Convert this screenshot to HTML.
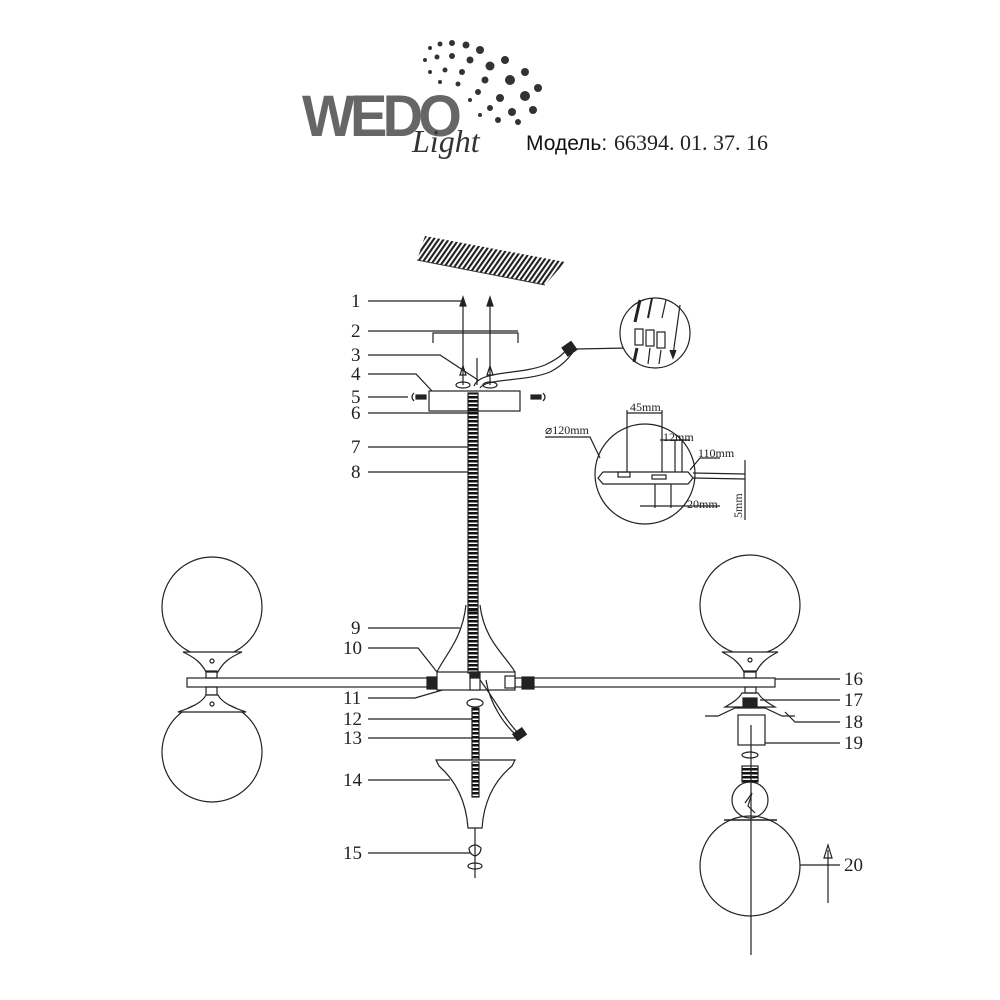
<!DOCTYPE html>
<html><head><meta charset="utf-8"><style>
body{margin:0;background:#fff}
svg{display:block}
text{font-family:"Liberation Serif",serif;fill:#222}
</style></head><body>
<svg width="1000" height="1000" viewBox="0 0 1000 1000" xmlns="http://www.w3.org/2000/svg">
<defs>
<pattern id="th" width="10" height="4" patternUnits="userSpaceOnUse"><rect width="10" height="4" fill="#fff"/><rect y="0" width="10" height="2.5" fill="#111"/></pattern>
<pattern id="hatch" width="5" height="30" patternUnits="userSpaceOnUse" patternTransform="skewX(-35)"><rect width="2.6" height="30" fill="#222"/></pattern>
</defs>
<!-- Logo -->
<g>
<g fill="#333">
<circle cx="430" cy="48" r="2"/><circle cx="440" cy="44" r="2.5"/><circle cx="452" cy="43" r="3"/><circle cx="466" cy="45" r="3.5"/><circle cx="480" cy="50" r="4"/>
<circle cx="425" cy="60" r="2"/><circle cx="437" cy="57" r="2.5"/><circle cx="452" cy="56" r="3"/><circle cx="470" cy="60" r="3.5"/><circle cx="490" cy="66" r="4.5"/><circle cx="505" cy="60" r="4"/>
<circle cx="430" cy="72" r="2"/><circle cx="445" cy="70" r="2.5"/><circle cx="462" cy="72" r="3"/><circle cx="485" cy="80" r="3.5"/><circle cx="510" cy="80" r="5"/><circle cx="525" cy="72" r="4"/>
<circle cx="440" cy="82" r="2"/><circle cx="458" cy="84" r="2.5"/><circle cx="478" cy="92" r="3"/><circle cx="500" cy="98" r="4"/><circle cx="525" cy="96" r="5"/><circle cx="538" cy="88" r="4"/>
<circle cx="470" cy="100" r="2"/><circle cx="490" cy="108" r="3"/><circle cx="512" cy="112" r="4"/><circle cx="533" cy="110" r="4"/>
<circle cx="480" cy="115" r="2"/><circle cx="498" cy="120" r="3"/><circle cx="518" cy="122" r="3"/>
</g>
<text x="302" y="136" font-family="Liberation Sans" font-weight="bold" font-size="58" style="fill:#666;font-family:'Liberation Sans',sans-serif;letter-spacing:-5px" textLength="155" lengthAdjust="spacingAndGlyphs">WEDO</text>
<text x="412" y="152" font-style="italic" font-size="32" style="fill:#333">Light</text>
<text x="526" y="150" font-size="21" style="fill:#111;font-family:'Liberation Sans',sans-serif">Модель:</text>
<text x="614" y="150" font-size="22" style="fill:#222">66394. 01. 37. 16</text>
</g>
<!-- ceiling hatch -->
<polygon points="425,236 565,262 545,285 417,260" fill="url(#hatch)"/>
<line x1="417" y1="260" x2="545" y2="285" stroke="#333" stroke-width="1"/>

<g stroke="#222" stroke-width="1.2" fill="none">
<line x1="368" y1="301" x2="463" y2="301"/>
<line x1="368" y1="331" x2="518" y2="331"/>
<polyline points="368,355 440,355 478,380"/>
<polyline points="368,374 416,374 432,391"/>
<line x1="368" y1="397" x2="408" y2="397"/>
<line x1="368" y1="413" x2="468" y2="413"/>
<line x1="368" y1="447" x2="468" y2="447"/>
<line x1="368" y1="472" x2="468" y2="472"/>
<line x1="368" y1="628" x2="460" y2="628"/>
<polyline points="368,648 418,648 437,672"/>
<polyline points="368,698 415,698 470,682"/>
<line x1="368" y1="719" x2="472" y2="719"/>
<line x1="368" y1="738" x2="520" y2="738"/>
<line x1="368" y1="780" x2="450" y2="780"/>
<line x1="368" y1="853" x2="470" y2="853"/>
<line x1="775" y1="679" x2="840" y2="679"/>
<line x1="760" y1="700" x2="840" y2="700"/>
<polyline points="785,712 795,722 840,722"/>
<line x1="765" y1="743" x2="840" y2="743"/>
<line x1="800" y1="865" x2="840" y2="865"/>
<polyline points="433,343 433,333 518,333 518,343"/>
<line x1="463" y1="300" x2="463" y2="385"/>
<line x1="490" y1="300" x2="490" y2="385"/>
<line x1="477" y1="358" x2="477" y2="385"/>
<path d="M460,306 L463,297 L466,306 Z" fill="#222"/>
<path d="M487,306 L490,297 L493,306 Z" fill="#222"/>
<path d="M460,375 L463,366 L466,375 Z"/><path d="M487,375 L490,366 L493,375 Z"/>
<ellipse cx="463" cy="385" rx="7" ry="3"/><ellipse cx="490" cy="385" rx="7" ry="3"/>
<rect x="429" y="391" width="91" height="20"/>
<path d="M414,393 q-4,4 0,8"/><rect x="416" y="395" width="10" height="4" fill="#222"/>
<path d="M543,393 q4,4 0,8"/><rect x="531" y="395" width="10" height="4" fill="#222"/>
<path d="M474,386 C480,370 520,375 545,365 C560,358 565,352 568,348"/>
<path d="M480,388 C486,378 525,382 550,372 C565,364 570,356 573,352"/>
<rect x="564" y="344" width="11" height="10" fill="#222" transform="rotate(-35 569 349)"/>
<line x1="576" y1="349" x2="628" y2="348"/>
<circle cx="655" cy="333" r="35" fill="#fff"/>
<line x1="640" y1="300" x2="635" y2="322" stroke-width="3"/>
<line x1="652" y1="298" x2="648" y2="318" stroke-width="2"/>
<line x1="666" y1="300" x2="662" y2="318"/>
<line x1="680" y1="305" x2="673" y2="355"/>
<path d="M670,350 L673,358 L676,350" fill="#222"/>
<rect x="635" y="329" width="8" height="16"/><rect x="646" y="330" width="8" height="16"/><rect x="657" y="332" width="8" height="16"/>
<line x1="637" y1="348" x2="634" y2="362" stroke-width="3"/><line x1="650" y1="348" x2="648" y2="364"/><line x1="661" y1="350" x2="659" y2="364"/>
<rect x="468" y="411" width="10" height="200" fill="url(#th)"/>
<rect x="468" y="393" width="10" height="18" fill="url(#th)"/>
<circle cx="645" cy="474" r="50"/>
<path d="M598,478 L603,472 L688,472 L693,478 L688,484 L603,484 Z"/>
<rect x="618" y="472" width="12" height="5"/><rect x="652" y="475" width="14" height="4"/>
<line x1="627" y1="410" x2="627" y2="472"/><line x1="662" y1="410" x2="662" y2="472"/>
<line x1="627" y1="413" x2="662" y2="413"/>
<line x1="660" y1="440" x2="690" y2="440"/><line x1="675" y1="440" x2="675" y2="472"/><line x1="682" y1="440" x2="682" y2="472"/>
<line x1="693" y1="473" x2="745" y2="474"/><line x1="693" y1="478" x2="745" y2="479"/>
<line x1="745" y1="460" x2="745" y2="520"/>
<line x1="655" y1="484" x2="655" y2="508"/><line x1="671" y1="484" x2="671" y2="508"/>
<line x1="640" y1="506" x2="720" y2="506"/>
<polyline points="545,437 590,437 600,458"/>
<polyline points="720,458 700,458 690,470"/>
<rect x="187" y="678" width="588" height="9" fill="#fff"/>
<rect x="427" y="677" width="9" height="12" fill="#222"/>
<rect x="522" y="677" width="12" height="12" fill="#222"/>
<path d="M466,605 C462,640 445,655 437,672 M480,605 C484,640 505,655 515,672"/>
<rect x="437" y="672" width="78" height="18" fill="#fff"/>
<rect x="468" y="611" width="10" height="62" fill="url(#th)"/>
<rect x="470" y="672" width="10" height="18" fill="#fff"/>
<rect x="470" y="672" width="9" height="6" fill="#222"/>
<rect x="505" y="676" width="10" height="12" fill="#fff"/>
<ellipse cx="475" cy="703" rx="8" ry="4"/>
<rect x="472" y="708" width="7" height="88" fill="url(#th)"/>
<path d="M480,680 C495,700 505,720 520,735 M486,680 C490,705 505,725 516,735"/>
<rect x="514" y="730" width="11" height="8" fill="#222" transform="rotate(-35 520 734)"/>
<path d="M436,760 L515,760 L512,766 C495,780 484,800 482,828 L468,828 C466,800 455,780 439,766 Z" fill="#fff"/>
<rect x="472" y="762" width="7" height="35" fill="url(#th)"/>
<line x1="475" y1="828" x2="475" y2="878"/>
<path d="M469,848 q6,-6 12,0 q0,6 -6,8 q-6,-2 -6,-8"/>
<ellipse cx="475" cy="866" rx="7" ry="3"/>
<circle cx="212" cy="607" r="50"/>
<path d="M183,652 L242,652 C228,658 222,664 218,672 L206,672 C202,664 196,658 183,652 Z" fill="#fff"/>
<rect x="206" y="671" width="11" height="7"/>
<circle cx="212" cy="661" r="2"/>
<circle cx="212" cy="752" r="50"/>
<rect x="206" y="687" width="11" height="8"/>
<path d="M206,695 C202,703 190,708 178,712 L246,712 C234,708 222,703 218,695 Z" fill="#fff"/>
<circle cx="212" cy="704" r="2"/>
<circle cx="750" cy="605" r="50"/>
<path d="M722,652 L778,652 C766,658 760,664 756,672 L744,672 C740,664 734,658 722,652 Z" fill="#fff"/>
<rect x="744" y="671" width="12" height="7"/>
<circle cx="750" cy="660" r="2"/>
<rect x="745" y="687" width="11" height="6"/>
<path d="M742,693 L758,693 C762,700 770,704 775,707 L725,707 C730,704 738,700 742,693 Z"/>
<rect x="743" y="698" width="14" height="8" fill="#222"/>
<path d="M705,716 L718,716 L735,708 L765,708 L782,716 L795,716"/>
<rect x="738" y="715" width="27" height="30"/>
<ellipse cx="750" cy="755" rx="8" ry="3"/>
<rect x="742" y="766" width="16" height="16" fill="url(#th)"/>
<circle cx="750" cy="800" r="18"/>
<path d="M745,803 L752,793 L748,806 L755,813"/>
<line x1="751" y1="725" x2="751" y2="955"/>
<circle cx="750" cy="866" r="50"/>
<line x1="724" y1="820" x2="777" y2="820" stroke-width="1.5"/>
<line x1="828" y1="850" x2="828" y2="903"/>
<path d="M824,858 L828,845 L832,858 Z"/>
</g>
<g font-size="19">
<text x="351" y="307">1</text><text x="351" y="337">2</text><text x="351" y="361">3</text><text x="351" y="380">4</text>
<text x="351" y="403">5</text><text x="351" y="419">6</text><text x="351" y="453">7</text><text x="351" y="478">8</text>
<text x="351" y="634">9</text><text x="343" y="654">10</text><text x="343" y="704">11</text><text x="343" y="725">12</text>
<text x="343" y="744">13</text><text x="343" y="786">14</text><text x="343" y="859">15</text>
<text x="844" y="685">16</text><text x="844" y="706">17</text><text x="844" y="728">18</text><text x="844" y="749">19</text><text x="844" y="871">20</text>
</g>
<g font-size="12">
<text x="630" y="411">45mm</text>
<text x="545" y="434">⌀120mm</text>
<text x="663" y="441">12mm</text>
<text x="698" y="457">110mm</text>
<text x="687" y="508">20mm</text>
<text x="742" y="518" transform="rotate(-90 742 518)">5mm</text>
</g>
</svg>
</body></html>
